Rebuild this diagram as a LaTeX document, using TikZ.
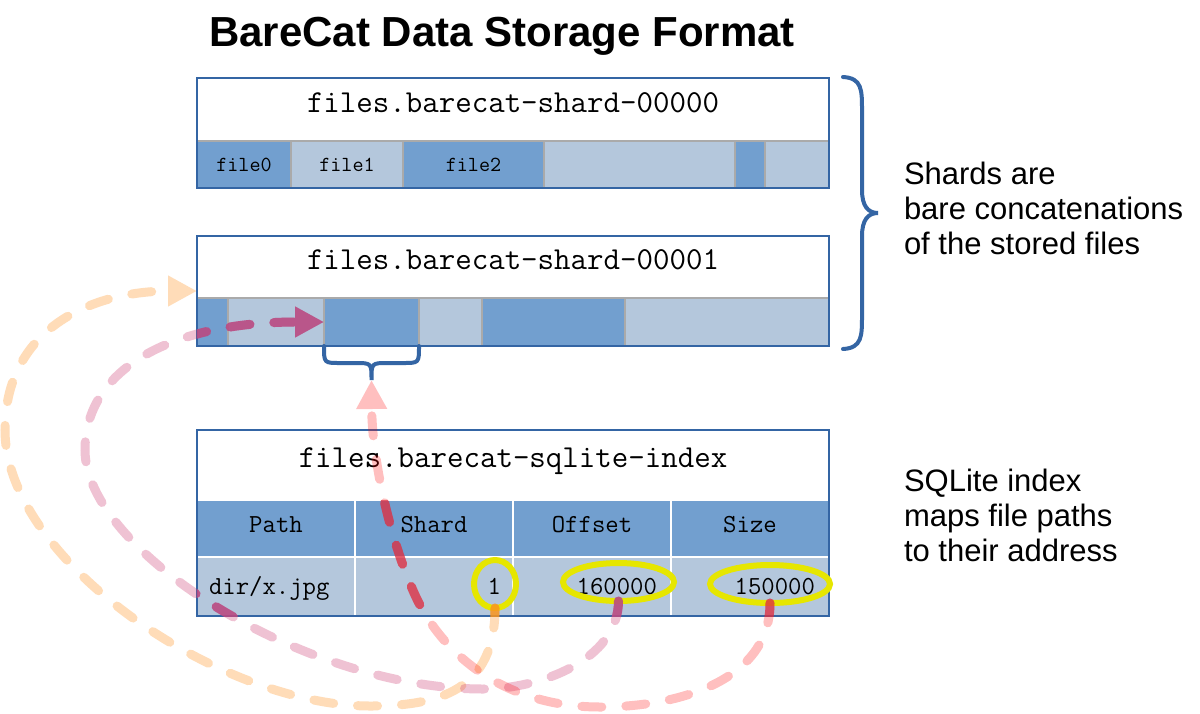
\documentclass[tikz,border=0pt]{standalone}
\usepackage{fontspec}
\setmainfont{Liberation Sans}
\usetikzlibrary{arrows.meta,shapes.geometric,calc}
\definecolor{dkblue}{RGB}{114,159,207}
\definecolor{ltblue}{RGB}{180,199,220}
\definecolor{boxblue}{RGB}{52,101,164}
\definecolor{sepgray}{RGB}{170,170,170}
\definecolor{hiyellow}{RGB}{230,230,0}
\definecolor{corange}{RGB}{255,142,22}
\definecolor{cpink}{RGB}{205,55,112}
\definecolor{cred}{RGB}{255,0,0}
\definecolor{sorange}{RGB}{250,150,30}
\definecolor{spink}{RGB}{185,75,130}
\definecolor{sred}{RGB}{220,50,70}
\begin{document}
\begin{tikzpicture}[x=1pt,y=-1pt,
  every node/.style={inner sep=0pt, outer sep=0pt},
  hdrbox/.style={anchor=north west, fill=white, minimum width=632, text height=5pt, text depth=0pt, font=\ttfamily\fontsize{32}{36}\selectfont},
  stripcell/.style={anchor=north west, draw=sepgray, line width=1.2pt, font=\ttfamily\fontsize{21.5}{24}\selectfont},
  dkc/.style={fill=dkblue},
  ltc/.style={fill=ltblue},
  tabcell/.style={anchor=north west, minimum width=158, draw=white, line width=1.5pt, text height=7pt, text depth=0pt, font=\ttfamily\fontsize{26}{30}\selectfont},
  valtext/.style={font=\ttfamily\fontsize{26}{30}\selectfont},
  boxline/.style={draw=boxblue, line width=2pt},
  hilite/.style={ellipse, draw=hiyellow, line width=6pt},
  bracestyle/.style={draw=boxblue, line width=4pt, line cap=round},
  note/.style={anchor=west, align=left, font=\fontsize{31}{35}\selectfont},
  flow/.style={line width=9pt, line cap=round, dash pattern=on 20pt off 24pt, -{Triangle[length=29pt,width=29pt]}}
]
\useasboundingbox[fill=white] (0,0) rectangle (1200,713);

% title
\node[anchor=base, font=\bfseries\fontsize{42}{50}\selectfont] (title) at (502,46) {BareCat Data Storage Format};

% shard 0
\node[hdrbox, minimum height=63] (s0) at (197,78) {files.barecat-shard-00000};
\node[stripcell, dkc, minimum width=94,  minimum height=47] (s0a) at (197,141) {file0};
\node[stripcell, ltc, minimum width=112, minimum height=47] (s0b) at (291,141) {file1};
\node[stripcell, dkc, minimum width=141, minimum height=47] (s0c) at (403,141) {file2};
\node[stripcell, ltc, minimum width=191, minimum height=47] (s0d) at (544,141) {};
\node[stripcell, dkc, minimum width=30,  minimum height=47] (s0e) at (735,141) {};
\node[stripcell, ltc, minimum width=64,  minimum height=47] (s0f) at (765,141) {};
\draw[boxline] (s0.north west) rectangle (s0f.south east);

% shard 1
\node[hdrbox, minimum height=62] (s1) at (197,236) {files.barecat-shard-00001};
\node[stripcell, dkc, minimum width=31,  minimum height=48] (s1a) at (197,298) {};
\node[stripcell, ltc, minimum width=96,  minimum height=48] (s1b) at (228,298) {};
\node[stripcell, dkc, minimum width=95,  minimum height=48] (s1c) at (324,298) {};
\node[stripcell, ltc, minimum width=63,  minimum height=48] (s1d) at (419,298) {};
\node[stripcell, dkc, minimum width=143, minimum height=48] (s1e) at (482,298) {};
\node[stripcell, ltc, minimum width=204, minimum height=48] (s1f) at (625,298) {};
\draw[boxline] (s1.north west) rectangle (s1f.south east);

% index
\node[hdrbox, minimum height=70] (ix) at (197,430) {files.barecat-sqlite-index};
\node[tabcell, dkc, minimum height=57] (h1) at (197,500) {Path};
\node[tabcell, dkc, minimum height=57] (h2) at (355,500) {Shard};
\node[tabcell, dkc, minimum height=57] (h3) at (513,500) {Offset};
\node[tabcell, dkc, minimum height=57] (h4) at (671,500) {Size};
\node[tabcell, ltc, minimum height=59] (d1) at (197,557) {};
\node[tabcell, ltc, minimum height=59] (d2) at (355,557) {};
\node[tabcell, ltc, minimum height=59] (d3) at (513,557) {};
\node[tabcell, ltc, minimum height=59] (d4) at (671,557) {};
\draw[boxline] (ix.north west) rectangle (d4.south east);
\node[valtext, anchor=base west] (v1) at (209,594) {dir/x.jpg};
\node[valtext, anchor=base east] (v2) at (501,594) {1};
\node[valtext, anchor=base east] (v3) at (657,594) {160000};
\node[valtext, anchor=base east] (v4) at (815,594) {150000};

% highlights
\node[hilite, minimum width=42, minimum height=48] (e1) at (495,584) {};
\node[hilite, minimum width=111, minimum height=38] (e2) at (618.5,582) {};
\node[hilite, minimum width=120, minimum height=38] (e3) at (770,584) {};

% notes
\node[note] (shtxt) at (904,208) {Shards are\\bare concatenations\\of the stored files};
\node[note] (ixtxt) at (904,515) {SQLite index\\maps file paths\\to their address};

% braces
\coordinate (btip) at (371.5,380);
\draw[bracestyle] (s1c.south west) .. controls (324,363) .. (340,363) -- (355,363)
  .. controls (371.5,363) .. (btip) .. controls (371.5,363) .. (388,363) -- (403,363)
  .. controls (419,363) .. (s1c.south east);
\coordinate (rtip) at (878,213);
\draw[bracestyle] (843,77) .. controls (862,78) and (862,90) .. (862,110) -- (862,190)
  .. controls (862,206) and (868,213) .. (rtip) .. controls (868,213) and (862,220) .. (862,236)
  -- (862,316) .. controls (862,336) and (862,348) .. (843,349);

% connector coordinates
\coordinate (otip) at ([yshift=7pt]s1.south west);
\coordinate (ob) at (370,706);
\coordinate (ol) at (5,430);
\coordinate (pb) at (483,689);
\coordinate (pl) at (85,450);
\coordinate (rb) at (600,707);
\coordinate (rm) at (415,595);

% pale connectors
\begin{scope}[transparency group, opacity=.3]
\draw[flow, draw=corange] (e1.south) .. controls (495,690) and (440,706) .. (ob)
  .. controls (220,706) and (5,560) .. (ol) .. controls (5,330) and (90,291) .. (otip);
\end{scope}
\begin{scope}[transparency group, opacity=.3]
\draw[flow, draw=cpink] (e2.south) .. controls (618,660) and (540,689) .. (pb)
  .. controls (303,689) and (85,550) .. (pl) .. controls (85,370) and (170,322) .. (s1c.west);
\end{scope}
\begin{scope}[transparency group, opacity=.25]
\draw[flow, draw=cred] (e3.south) .. controls (770,680) and (680,707) .. (rb)
  .. controls (500,707) and (440,650) .. (rm) .. controls (390,540) and (372,460) .. (btip);
\end{scope}

% stronger over the coloured cells
\begin{scope}
\clip (s0a.north west) rectangle (s0f.south east)
      (s1a.north west) rectangle (s1f.south east)
      (h1.north west) rectangle (d4.south east);
\begin{scope}[transparency group, opacity=.8]
\draw[flow, draw=sorange] (e1.south) .. controls (495,690) and (440,706) .. (ob)
  .. controls (220,706) and (5,560) .. (ol) .. controls (5,330) and (90,291) .. (otip);
\end{scope}
\begin{scope}[transparency group, opacity=.85]
\draw[flow, draw=spink] (e2.south) .. controls (618,660) and (540,689) .. (pb)
  .. controls (303,689) and (85,550) .. (pl) .. controls (85,370) and (170,322) .. (s1c.west);
\end{scope}
\begin{scope}[transparency group, opacity=.7]
\draw[flow, draw=sred] (e3.south) .. controls (770,680) and (680,707) .. (rb)
  .. controls (500,707) and (440,650) .. (rm) .. controls (390,540) and (372,460) .. (btip);
\end{scope}
\end{scope}
\end{tikzpicture}
\end{document}
